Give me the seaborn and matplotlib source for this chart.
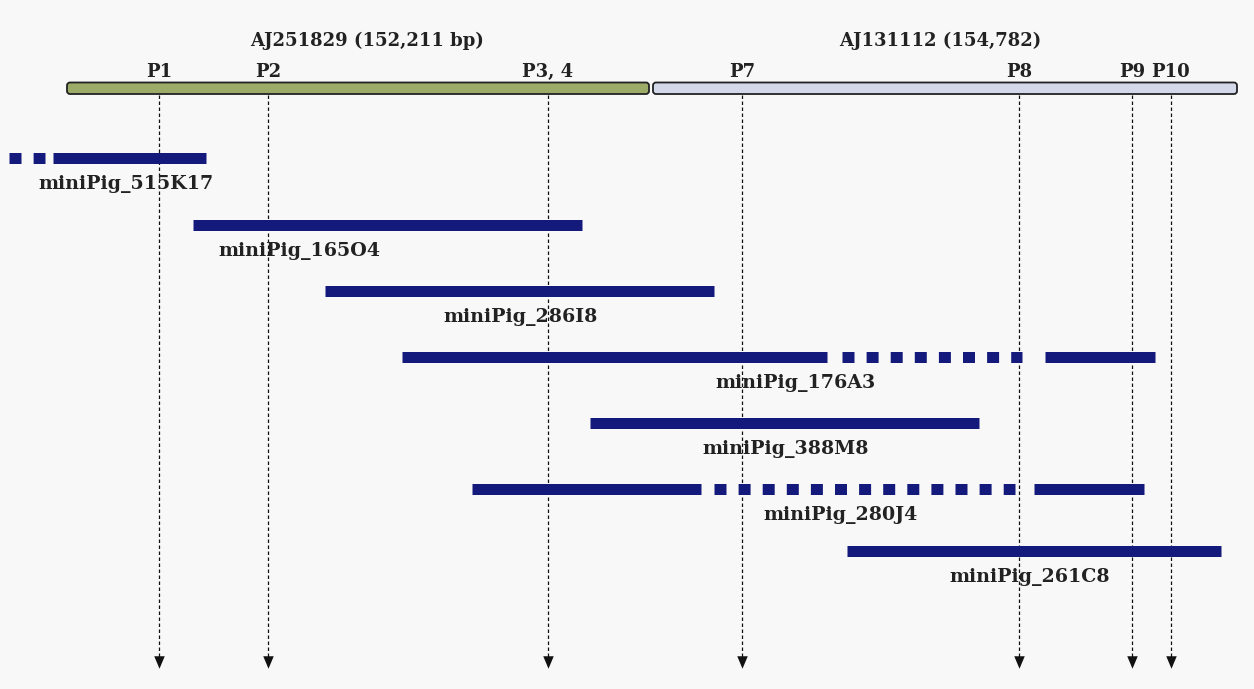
import matplotlib
matplotlib.use("Agg")
import matplotlib.pyplot as plt
from matplotlib.patches import FancyBboxPatch
import seaborn as sns
import pandas as pd

# positions in kb-like map units (figure drawn on a 1254 x 689 grid)
genome_names = ["AJ251829 (152,211 bp)", "AJ131112 (154,782)"]
genome_start = [66, 652]
genome_end = [650, 1238]
genome_colors = ["#9dab69", "#d4d9ea"]
title_x = [367, 940]

probe_names = ["P1", "P2", "P3, 4", "P7", "P8", "P9", "P10"]
probe_x = [159, 268, 548, 742, 1019, 1132, 1171]

clone_names = ["miniPig_515K17", "miniPig_165O4", "miniPig_286I8", "miniPig_176A3",
               "miniPig_388M8", "miniPig_280J4", "miniPig_261C8"]
clone_row = [158, 225, 291, 357, 423, 489, 551]
clone_solid = [[(53, 206)], [(193, 582)], [(325, 714)], [(402, 827), (1045, 1155)],
               [(590, 979)], [(472, 701), (1034, 1144)], [(847, 1221)]]
clone_dotted = [[(9, 45)], [], [], [(842, 1022)], [], [(714, 1015)], []]
label_x = [38, 218, 443, 715, 702, 763, 949]

navy = "#141a7c"
bg = "#f8f8f8"
font = ["DejaVu Serif"]

sns.set_theme(style="white")
plt.rcParams["font.family"] = font
plt.rcParams["lines.scale_dashes"] = False

fig = plt.figure(figsize=(12.54, 6.89), dpi=100, facecolor=bg)
ax = fig.add_axes([0, 0, 1, 1])
ax.set_facecolor(bg)
ax.set_xlim(0, 1254)
ax.set_ylim(689, 0)
ax.axis("off")

px = 0.72  # points per pixel

# genome bars
for name, s, e, c, tx in zip(genome_names, genome_start, genome_end,
                             genome_colors, title_x):
    ax.add_patch(FancyBboxPatch((s + 1, 82.5), e - s - 2, 11.5,
                                boxstyle="round,pad=0,rounding_size=3",
                                fc=c, ec="#222222", lw=1.3, zorder=3))
    ax.text(tx, 46, name, ha="center", va="baseline", fontsize=13,
            fontweight="bold", color="#222222")

# probe lines and arrows
for name, x in zip(probe_names, probe_x):
    ax.text(x, 77, name, ha="center", va="baseline", fontsize=13,
            fontweight="bold", color="#222222")
ax.vlines(probe_x, 95, 658, colors="#111111", lw=0.9,
          linestyles=(0, (3.5 * px, 2.5 * px)), zorder=1)
arrows = pd.DataFrame({"x": probe_x, "y": [662] * len(probe_x)})
head = [(-0.42, 0.5), (0.42, 0.5), (0, -0.5), (-0.42, 0.5)]
sns.scatterplot(data=arrows, x="x", y="y", marker=head, s=(12.5 * px) ** 2,
                color="#111111", linewidth=0, ax=ax, zorder=4, legend=False)

# clones
for name, y, solid, dotted, lx in zip(clone_names, clone_row, clone_solid,
                                      clone_dotted, label_x):
    for s, e in solid:
        ax.plot([s, e], [y, y], color=navy, lw=11 * px, solid_capstyle="butt", zorder=2)
    for s, e in dotted:
        ax.plot([s, e], [y, y], color=navy, lw=11 * px, dash_capstyle="butt",
                linestyle=(0, (12 * px, 12.1 * px)), zorder=2)
    ax.text(lx, y + 31, name, ha="left", va="baseline", fontsize=13.7,
            fontweight="bold", color="#222222", zorder=5)

fig.savefig("out.png", dpi=100, facecolor=bg)
